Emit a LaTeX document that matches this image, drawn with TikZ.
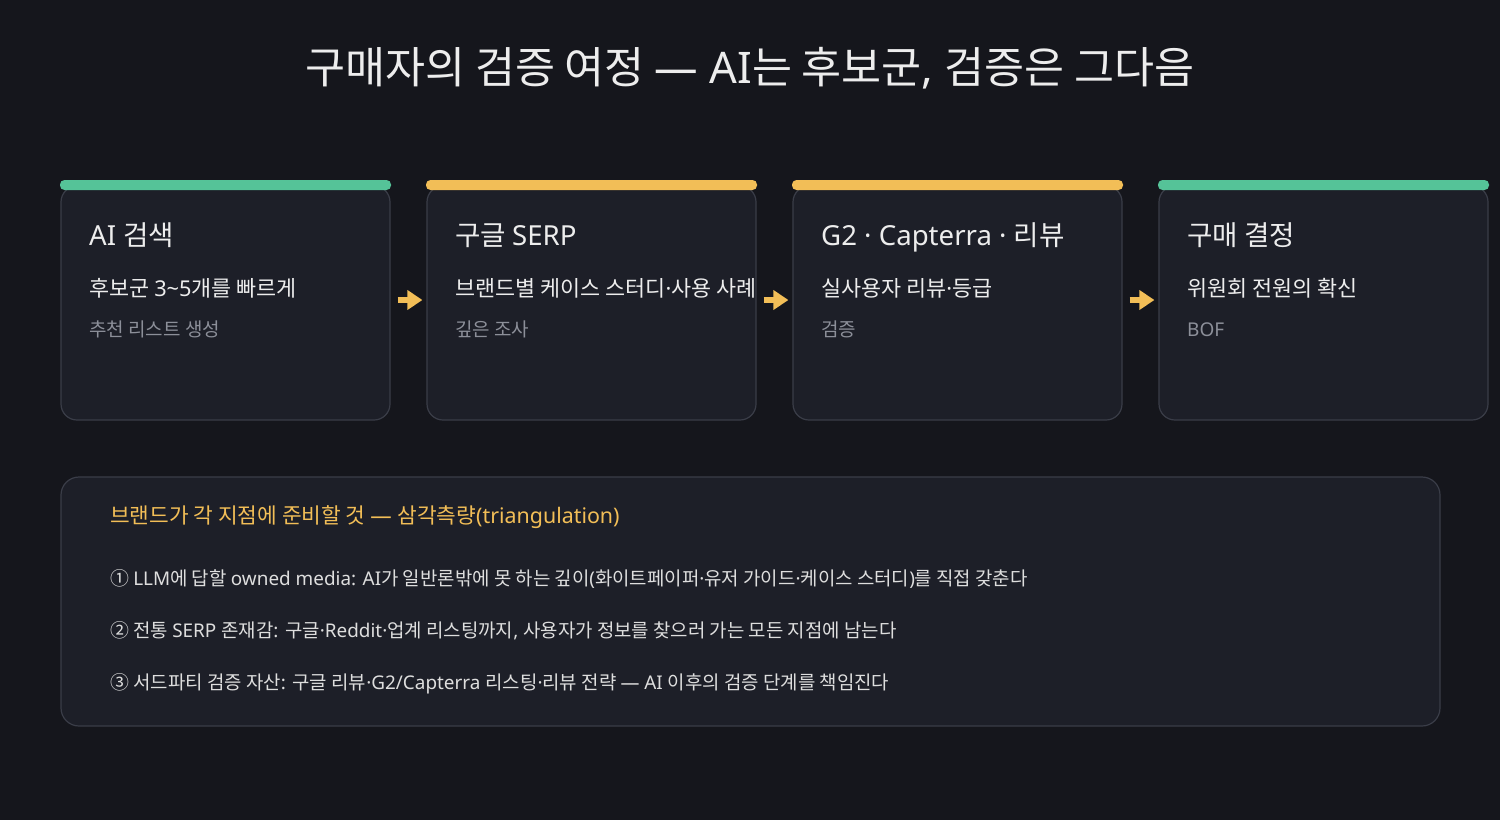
\documentclass[tikz,border=0pt]{standalone}
\usepackage{fontspec}
\setmainfont{Noto Sans}
\newfontfamily\hanfont{Noto Sans CJK KR}
\XeTeXinterchartokenstate=1
\newXeTeXintercharclass\hanclass
\count255="AC00
\loop
  \XeTeXcharclass\count255=\hanclass
  \ifnum\count255<"D7A3 \advance\count255 by 1
\repeat
\count255="2460
\loop
  \XeTeXcharclass\count255=\hanclass
  \ifnum\count255<"2473 \advance\count255 by 1
\repeat
\XeTeXinterchartoks 0 \hanclass = {\hanfont}
\XeTeXinterchartoks 4095 \hanclass = {\hanfont}
\XeTeXinterchartoks \hanclass 0 = {\normalfont}
\XeTeXinterchartoks 4095 0 = {\normalfont}
\usetikzlibrary{arrows.meta}
\definecolor{bg}{HTML}{15161C}
\definecolor{cardfill}{HTML}{1D1F28}
\definecolor{cardline}{HTML}{3A3D48}
\definecolor{accgreen}{HTML}{55C398}
\definecolor{accyellow}{HTML}{F2BE57}
\definecolor{txtmain}{HTML}{EDEDED}
\definecolor{txtsub}{HTML}{8C8F99}
\definecolor{txtitem}{HTML}{DEDEDE}
\tikzset{
  card/.style={draw=cardline, line width=1.2pt, fill=cardfill, rounded corners=16pt,
    minimum width=329pt, minimum height=234pt, inner sep=0pt},
  panel/.style={draw=cardline, line width=1.2pt, fill=cardfill, rounded corners=18pt,
    minimum width=1379pt, minimum height=249pt, inner sep=0pt},
  cardtitle/.style={anchor=base west, inner sep=0pt, text=txtmain, font=\fontsize{27.6}{32}\selectfont},
  cardsub/.style={anchor=base west, inner sep=0pt, text=txtmain, font=\fontsize{21.8}{25}\selectfont},
  cardnote/.style={anchor=base west, inner sep=0pt, text=txtsub, font=\fontsize{19}{22}\selectfont},
  panelhead/.style={anchor=base west, inner sep=0pt, text=accyellow, font=\fontsize{21.4}{25}\selectfont},
  panelitem/.style={anchor=base west, inner sep=0pt, text=txtitem, font=\fontsize{18.9}{22}\selectfont},
  flowarrow/.style={draw=accyellow, line width=6pt, -{Triangle[length=15pt,width=19pt]}},
}
\begin{document}
\begin{tikzpicture}[x=1pt,y=-1pt]
\useasboundingbox (0,0) rectangle (1500,820);
\fill[bg] (0,0) rectangle (1500,820);

\node[anchor=base, inner sep=0pt, text=txtmain, font=\fontsize{43.5}{50}\selectfont] (title) at (750,83)
  {구매자의 검증 여정 — AI는 후보군, 검증은 그다음};

% cards
\node[card] (c1) at (225.5,303) {};
\node[card] (c2) at (591.5,303) {};
\node[card] (c3) at (957.5,303) {};
\node[card] (c4) at (1323.5,303) {};

\fill[accgreen, rounded corners=4.5pt] (60,180) rectangle (391,190);
\fill[accyellow, rounded corners=4.5pt] (426,180) rectangle (757,190);
\fill[accyellow, rounded corners=4.5pt] (792,180) rectangle (1123,190);
\fill[accgreen, rounded corners=4.5pt] (1158,180) rectangle (1489,190);

\node[cardtitle] (t1) at (89,245) {AI 검색};
\node[cardsub] (s1) at (89,296) {후보군 3\textasciitilde5개를 빠르게};
\node[cardnote] (n1) at (89,336) {추천 리스트 생성};

\node[cardtitle] (t2) at (455,245) {구글 SERP};
\node[cardsub] (s2) at (455,296) {브랜드별 케이스 스터디·사용 사례};
\node[cardnote] (n2) at (455,336) {깊은 조사};

\node[cardtitle] (t3) at (821,245) {G2 · Capterra · 리뷰};
\node[cardsub] (s3) at (821,296) {실사용자 리뷰·등급};
\node[cardnote] (n3) at (821,336) {검증};

\node[cardtitle] (t4) at (1187,245) {구매 결정};
\node[cardsub] (s4) at (1187,296) {위원회 전원의 확신};
\node[cardnote] (n4) at (1187,336) {BOF};

% arrows
\draw[flowarrow] ([xshift=7pt,yshift=3pt]c1.east) -- ([xshift=-4pt,yshift=3pt]c2.west);
\draw[flowarrow] ([xshift=7pt,yshift=3pt]c2.east) -- ([xshift=-4pt,yshift=3pt]c3.west);
\draw[flowarrow] ([xshift=7pt,yshift=3pt]c3.east) -- ([xshift=-4pt,yshift=3pt]c4.west);

% panel
\node[panel] (p) at (750.5,601.5) {};
\node[panelhead] (ph) at (110,523) {브랜드가 각 지점에 준비할 것 — 삼각측량(triangulation)};
\node[panelitem] (i1) at (110,585) {① LLM에 답할 owned media: AI가 일반론밖에 못 하는 깊이(화이트페이퍼·유저 가이드·케이스 스터디)를 직접 갖춘다};
\node[panelitem] (i2) at (110,637) {② 전통 SERP 존재감: 구글·Reddit·업계 리스팅까지, 사용자가 정보를 찾으러 가는 모든 지점에 남는다};
\node[panelitem] (i3) at (110,689) {③ 서드파티 검증 자산: 구글 리뷰·G2/Capterra 리스팅·리뷰 전략 — AI 이후의 검증 단계를 책임진다};
\end{tikzpicture}
\end{document}
